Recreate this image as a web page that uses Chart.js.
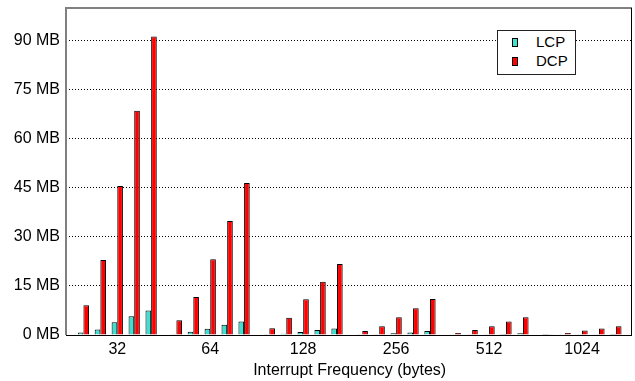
<!DOCTYPE html>
<html>
<head>
<meta charset="utf-8">
<script src="https://cdn.jsdelivr.net/npm/chart.js@4/dist/chart.umd.min.js"></script>
<style>
  html, body { margin: 0; padding: 0; background: #fff; }
  #wrap { position: relative; width: 635px; height: 381px; }
  #legend {
    position: absolute; left: 497px; top: 30px; width: 77px; height: 43px;
    border: 1px solid #222; background: #fff;
    font-family: "Liberation Sans", Arial, sans-serif; font-size: 15px; color: #000;
  }
  .item { position: absolute; left: 0; height: 18px; line-height: 18px; }
  .sw { position: absolute; left: 14px; top: 5px; width: 4px; height: 7px; border: 1px solid #000; }
  .lbl { position: absolute; left: 38px; top: 0; white-space: nowrap; }
</style>
</head>
<body>
<div id="wrap">
  <canvas id="c" width="635" height="381"></canvas>
  <div id="legend">
    <div class="item" style="top:2px"><span class="sw" style="background:#40E0D0"></span><span class="lbl">LCP</span></div>
    <div class="item" style="top:21px"><span class="sw" style="background:#FF0000"></span><span class="lbl">DCP</span></div>
  </div>
</div>
<script>
const categories = ['32', '64', '128', '256', '512', '1024'];
const seriesNames = ['LCP', 'DCP'];
const lcp32 = [0.8, 1.7, 3.9, 5.7, 7.5];
const dcp32 = [9.1, 22.9, 45.6, 68.6, 91.3];
const lcp64 = [0.2, 1.0, 1.9, 3.1, 4.1];
const dcp64 = [4.5, 11.6, 23.2, 34.9, 46.5];
const lcp128 = [0.1, 0.4, 0.9, 1.5, 2.0];
const dcp128 = [2.1, 5.3, 10.9, 16.3, 21.7];
const lcp256 = [0.1, 0.2, 0.5, 0.8, 1.2];
const dcp256 = [1.2, 2.7, 5.4, 8.2, 11.0];
const lcp512 = [0.05, 0.1, 0.2, 0.3, 0.5];
const dcp512 = [0.6, 1.5, 2.7, 4.1, 5.4];
const lcp1024 = [0.02, 0.05, 0.1, 0.2, 0.3];
const dcp1024 = [0.1, 0.6, 1.4, 2.0, 2.7];
const yTicks = [0, 15, 30, 45, 60, 75, 90];

const lcpByCat = [lcp32, lcp64, lcp128, lcp256, lcp512, lcp1024];
const dcpByCat = [dcp32, dcp64, dcp128, dcp256, dcp512, dcp1024];

const FONT = "'Liberation Sans', Arial, sans-serif";
const datasets = [];
const runs = lcp32.length;
const barOpts = { borderColor: '#000', borderWidth: 1, barPercentage: 1.0, categoryPercentage: 0.85 };
for (let k = 0; k < runs; k++) {
  datasets.push(Object.assign({ label: seriesNames[0], data: lcpByCat.map(a => a[k]), backgroundColor: '#40E0D0' }, barOpts));
  datasets.push(Object.assign({ label: seriesNames[1], data: dcpByCat.map(a => a[k]), backgroundColor: '#FF0000' }, barOpts));
  if (k < runs - 1) {
    datasets.push(Object.assign({ label: '', data: categories.map(() => null), backgroundColor: 'transparent' }, barOpts, { borderWidth: 0 }));
  }
}

const framePlugin = {
  id: 'frame',
  afterLayout(chart) {
    const s = chart.scales.x;
    s.left += 4.8; s.right -= 3.5; s.width = s.right - s.left;
    s.configure();
  },
  afterDatasetsDraw(chart) {
    const a = chart.chartArea, ctx = chart.ctx;
    ctx.save();
    ctx.strokeStyle = '#808080'; ctx.lineWidth = 2;
    ctx.beginPath();
    ctx.moveTo(a.left, a.bottom); ctx.lineTo(a.left, a.top); ctx.lineTo(a.right, a.top);
    ctx.stroke();
    ctx.strokeStyle = '#000'; ctx.lineWidth = 1;
    ctx.beginPath();
    ctx.moveTo(a.right - 0.5, a.top); ctx.lineTo(a.right - 0.5, a.bottom);
    ctx.moveTo(a.left, a.bottom + 0.5); ctx.lineTo(a.right, a.bottom + 0.5);
    ctx.stroke();
    ctx.restore();
  }
};

new Chart(document.getElementById('c'), {
  type: 'bar',
  data: { labels: categories, datasets },
  plugins: [framePlugin],
  options: {
    responsive: false, animation: false,
    layout: { padding: { top: 8, right: 3, left: 0, bottom: 0 } },
    plugins: { legend: { display: false }, tooltip: { enabled: false } },
    scales: {
      x: {
        grid: { display: false },
        border: { display: false },
        ticks: { color: '#000', font: { family: FONT, size: 16 }, padding: -3, maxRotation: 0, autoSkip: false },
        title: { display: true, text: 'Interrupt Frequency (bytes)', color: '#000',
                 font: { family: FONT, size: 16 }, padding: { top: 0, bottom: 1 } },
        afterFit(s) { s.height = 46; s.paddingLeft = 0; s.paddingRight = 0; }
      },
      y: {
        min: 0, max: 100,
        afterBuildTicks(s) { s.ticks = yTicks.map(v => ({ value: v })); },
        ticks: { color: '#000', font: { family: FONT, size: 16 }, padding: 6,
                 callback: v => v + ' MB' },
        grid: { drawTicks: false, color: c => (c.tick && c.tick.value === 0) ? 'rgba(0,0,0,0)' : '#000', lineWidth: 1 },
        border: { display: false, dash: [1, 2] },
        afterFit(s) { s.width = 66; s.paddingTop = 0; s.paddingBottom = 0; }
      }
    }
  }
});
</script>
</body>
</html>
